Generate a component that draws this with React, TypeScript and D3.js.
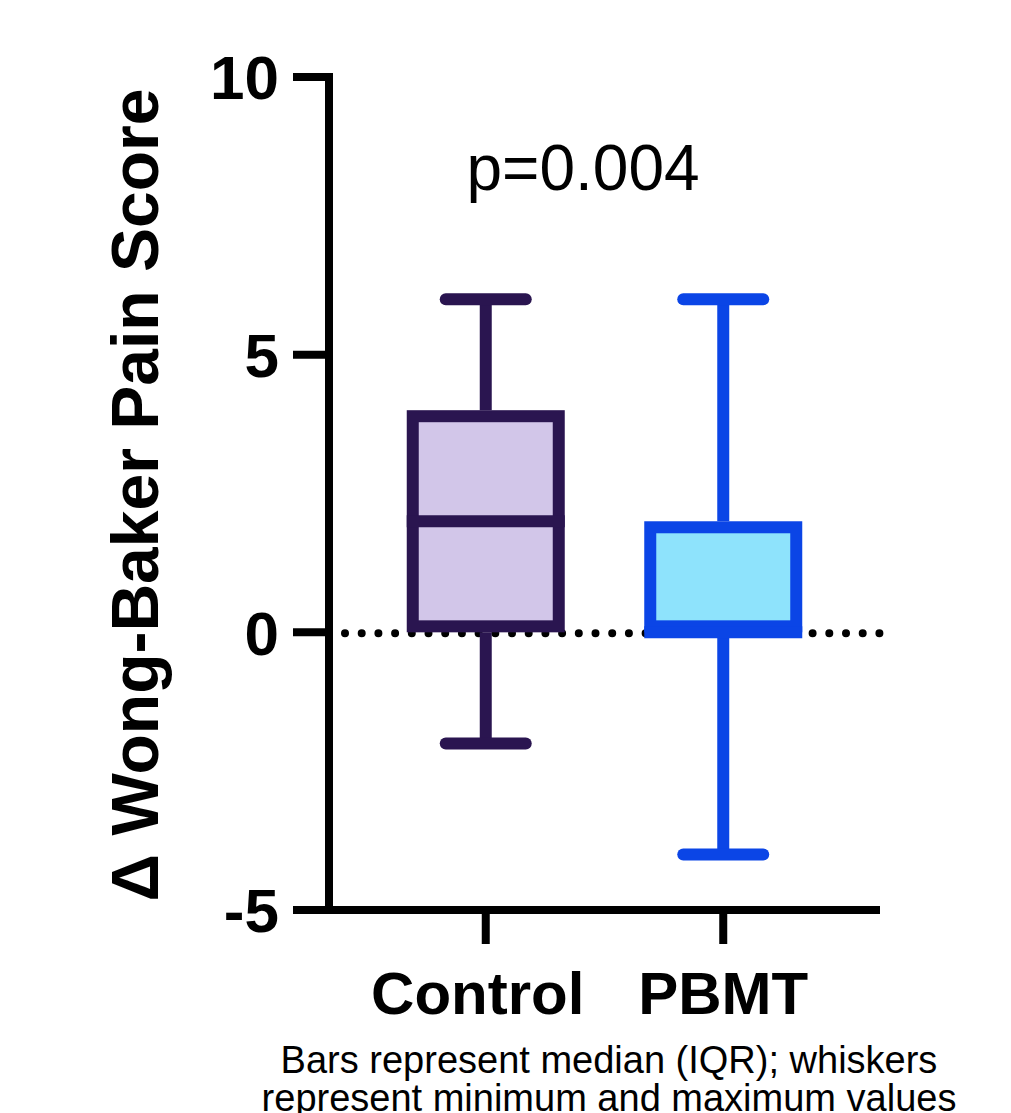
import React, { useEffect, useRef } from "react";
import * as d3 from "d3";

// values
const groups = ["Control", "PBMT"];
const mins = [-2, -4];
const q1s = [0, 0];
const medians = [2, 0];
const q3s = [4, 2];
const maxs = [6, 6];
const yTicks = [-5, 0, 5, 10];
const pLabel = "p=0.004";
const yTitle = "\u0394 Wong-Baker Pain Score";
const noteLines = [
  "Bars represent median (IQR); whiskers",
  "represent minimum and maximum values",
];

const strokeCols = ["#2a1550", "#0b45e6"];
const fillCols = ["#d2c6e9", "#8ee3fc"];
const FONT = "'Liberation Sans', Arial, Helvetica, sans-serif";

export default function App() {
  const ref = useRef<SVGSVGElement>(null);

  useEffect(() => {
    const svg = d3.select(ref.current);
    svg.selectAll("*").remove();

    const left = 329, right = 880, top = 77, bottom = 910;
    const x = d3.scalePoint<string>().domain(groups).range([left, right]).padding(0.66);
    const y = d3.scaleLinear().domain([-5, 10]).range([bottom, top]);

    const g = svg.append("g");

    // axes
    g.append("line")
      .attr("x1", left).attr("x2", left)
      .attr("y1", y(10)).attr("y2", y(-5))
      .attr("stroke", "#000").attr("stroke-width", 8).attr("stroke-linecap", "square");
    g.append("line")
      .attr("x1", left).attr("x2", right)
      .attr("y1", bottom).attr("y2", bottom)
      .attr("stroke", "#000").attr("stroke-width", 8);

    // y ticks + labels
    yTicks.forEach((t) => {
      g.append("line")
        .attr("x1", 293).attr("x2", left)
        .attr("y1", y(t)).attr("y2", y(t))
        .attr("stroke", "#000").attr("stroke-width", 8);
      g.append("text")
        .attr("x", 279).attr("y", y(t))
        .attr("dy", "0.36em")
        .attr("text-anchor", "end")
        .style("font-family", FONT).style("font-weight", "bold").style("font-size", "62px")
        .text(t);
    });

    // x ticks + labels
    groups.forEach((c, i) => {
      g.append("line")
        .attr("x1", x(c)!).attr("x2", x(c)!)
        .attr("y1", bottom).attr("y2", 944)
        .attr("stroke", "#000").attr("stroke-width", 8);
      g.append("text")
        .attr("x", x(c)! + (i === 0 ? -8 : 0)).attr("y", 1014)
        .attr("text-anchor", "middle")
        .style("font-family", FONT).style("font-weight", "bold").style("font-size", "60px")
        .text(c);
    });

    // y title
    g.append("text")
      .attr("transform", `translate(158, 495) rotate(-90)`)
      .attr("text-anchor", "middle")
      .style("font-family", FONT).style("font-weight", "bold").style("font-size", "66px")
      .text(yTitle);

    // dotted zero line
    g.append("line")
      .attr("x1", 345).attr("x2", right)
      .attr("y1", y(0) + 1).attr("y2", y(0) + 1)
      .attr("stroke", "#000").attr("stroke-width", 8)
      .attr("stroke-linecap", "round").attr("stroke-dasharray", "0 16.7");

    // boxes
    const boxW = 158, sw = 12, capHalf = 40;
    groups.forEach((c, i) => {
      const cx = x(c)!;
      const col = strokeCols[i];
      // whiskers
      g.append("line")
        .attr("x1", cx).attr("x2", cx).attr("y1", y(maxs[i])).attr("y2", y(q3s[i]))
        .attr("stroke", col).attr("stroke-width", sw);
      g.append("line")
        .attr("x1", cx).attr("x2", cx).attr("y1", y(mins[i])).attr("y2", y(q1s[i]))
        .attr("stroke", col).attr("stroke-width", sw);
      [maxs[i], mins[i]].forEach((v) => {
        g.append("line")
          .attr("x1", cx - capHalf).attr("x2", cx + capHalf)
          .attr("y1", y(v)).attr("y2", y(v))
          .attr("stroke", col).attr("stroke-width", sw).attr("stroke-linecap", "round");
      });
      // box, border drawn inside the IQR
      g.append("rect")
        .attr("x", cx - boxW / 2 + sw / 2)
        .attr("y", y(q3s[i]) + sw / 2)
        .attr("width", boxW - sw)
        .attr("height", y(q1s[i]) - y(q3s[i]) - sw)
        .attr("fill", fillCols[i])
        .attr("stroke", col).attr("stroke-width", sw);
      // median
      g.append("line")
        .attr("x1", cx - boxW / 2).attr("x2", cx + boxW / 2)
        .attr("y1", y(medians[i])).attr("y2", y(medians[i]))
        .attr("stroke", col).attr("stroke-width", sw);
    });

    // p value
    g.append("text")
      .attr("x", 583).attr("y", 190)
      .attr("text-anchor", "middle")
      .style("font-family", FONT).style("font-size", "64px")
      .text(pLabel);

    // footnote
    noteLines.forEach((l, i) => {
      g.append("text")
        .attr("x", 609).attr("y", 1073 + i * 38)
        .attr("text-anchor", "middle")
        .style("font-family", FONT).style("font-size", "38px")
        .text(l);
    });
  }, []);

  return (
    <svg
      ref={ref}
      width={1011}
      height={1113}
      style={{ position: "absolute", left: 0, top: 0, background: "#fff" }}
    />
  );
}
